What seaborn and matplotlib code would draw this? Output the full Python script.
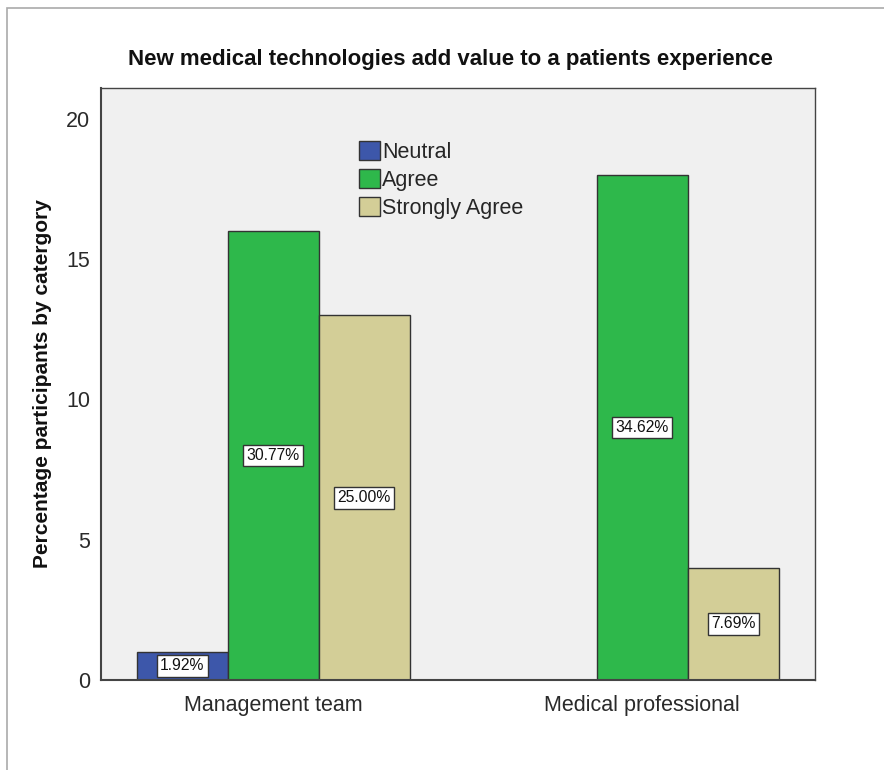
import pandas as pd
import matplotlib
matplotlib.use('Agg')
import matplotlib.pyplot as plt
import seaborn as sns
from matplotlib.patches import Rectangle

# Chart data
groups = ['Management team', 'Medical professional']
responses = ['Neutral', 'Agree', 'Strongly Agree']
mgmt_counts = [1, 16, 13]
med_counts = [None, 18, 4]
mgmt_labels = ['1.92%', '30.77%', '25.00%']
med_labels = [None, '34.62%', '7.69%']
colors = ['#3d57aa', '#2eb84b', '#d3ce97']

rows = []
for g, counts, labels in [(groups[0], mgmt_counts, mgmt_labels), (groups[1], med_counts, med_labels)]:
    for r, c, l in zip(responses, counts, labels):
        if c is not None:
            rows.append({'group': g, 'response': r, 'count': c, 'label': l})
df = pd.DataFrame(rows)

sns.set_style('white')
plt.rcParams['font.family'] = ['Liberation Sans', 'DejaVu Sans']

fig = plt.figure(figsize=(8.84, 7.70), dpi=100)
ax = fig.add_axes([101 / 884, 1 - 680 / 770, 714 / 884, 592 / 770])
ax.set_facecolor('#f0f0f0')

sns.barplot(data=df, x='group', y='count', hue='response', order=groups,
            hue_order=responses, palette=colors, width=0.74, gap=0,
            edgecolor='#333333', linewidth=1.0, saturation=1, errorbar=None, ax=ax)

# value labels in the middle of each bar
for cont, resp in zip(ax.containers, responses):
    labs = df[df['response'] == resp]['label'].tolist()
    ax.bar_label(cont, labels=labs, label_type='center', fontsize=11.3, color='#111111',
                 bbox=dict(boxstyle='square,pad=0.22', facecolor='white',
                           edgecolor='#333333', linewidth=1.0))

ax.set_xlim(-0.467, 1.468)
ax.set_ylim(0, 21.1)
ax.set_yticks([0, 5, 10, 15, 20])
ax.tick_params(axis='both', direction='out', length=6, width=1, color='#333333',
               labelsize=15.5, labelcolor='#2a2a2a', pad=2)
ax.tick_params(axis='x', pad=5)
for s in ax.spines.values():
    s.set_visible(True)
    s.set_color('#444444')
    s.set_linewidth(1.0)
ax.spines['left'].set_linewidth(1.5)
ax.spines['bottom'].set_linewidth(1.5)

ax.set_xlabel('')
ax.set_ylabel('Percentage participants by catergory', fontsize=15, fontweight='bold',
              color='#111111', labelpad=10)
fig.text(450 / 884, 1 - 59 / 770, 'New medical technologies add value to a patients experience',
         ha='center', va='center', fontsize=16, fontweight='bold', color='#111111')

leg = ax.legend(loc='upper left', bbox_to_anchor=(0.3495, 0.925), frameon=False,
                fontsize=15.5, handlelength=0.95, handleheight=0.95, handletextpad=0.1,
                labelspacing=0.3, borderaxespad=0)
for h in leg.legend_handles:
    h.set_edgecolor('#333333')
    h.set_linewidth(1.0)

# outer figure border
fig.patches.append(Rectangle((7 / 884, -0.01), 1.0, 1 - 8 / 770 + 0.01, transform=fig.transFigure,
                             fill=False, edgecolor='#aaaaaa', linewidth=1.2))

fig.savefig('out.png', dpi=100, facecolor='white')
